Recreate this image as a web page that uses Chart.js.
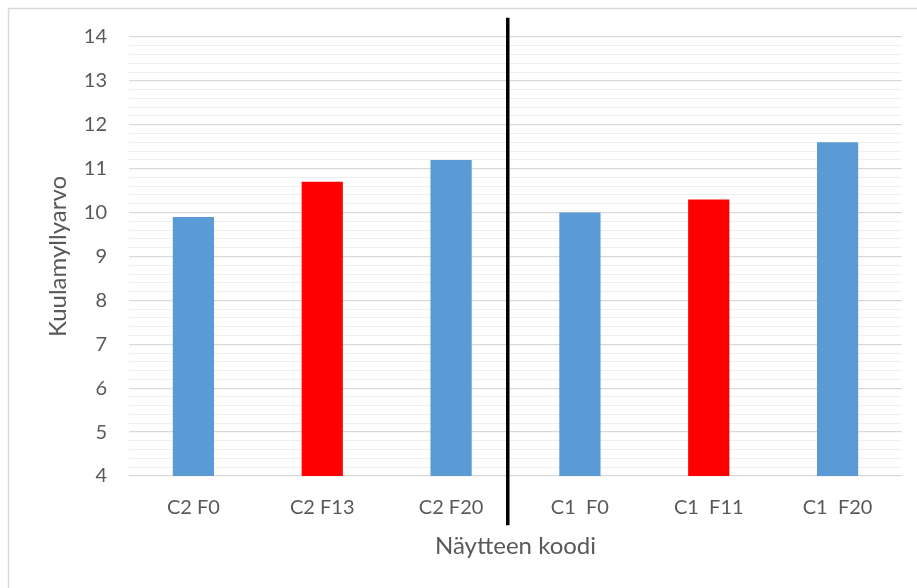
<!DOCTYPE html>
<html>
<head>
<meta charset="utf-8">
<script src="https://cdn.jsdelivr.net/npm/chart.js@4.4.1/dist/chart.umd.min.js"></script>
<style>
  html, body { margin: 0; padding: 0; background: #ffffff; }
  #wrap { width: 917px; height: 588px; }
</style>
</head>
<body>
<div id="wrap"><canvas id="c" width="917" height="588"></canvas></div>
<script>
// Ball-mill values per sample code
const categories = ['C2 F0', 'C2 F13', 'C2 F20', 'C1  F0', 'C1  F11', 'C1  F20'];
const values = [9.9, 10.7, 11.2, 10.0, 10.3, 11.6];
const barColors = ['#5B9BD5', '#FF0000', '#5B9BD5', '#5B9BD5', '#FF0000', '#5B9BD5'];
const yMin = 4;
const yMax = 14;
const yTitle = 'Kuulamyllyarvo';
const xTitle = 'Näytteen koodi';

// Separator between the C2 and C1 groups (in scale units)
const dividerX = 2.44;
const dividerTop = 14.44;
const dividerBottom = 2.88;

const FONT = 'Lato, "Open Sans", sans-serif';
const TEXT = '#595959';

const isMajor = v => Math.abs(v - Math.round(v)) < 1e-6;

const frame = {
  id: 'frame',
  beforeDraw(chart) {
    const ctx = chart.ctx;
    ctx.save();
    ctx.fillStyle = '#ffffff';
    ctx.fillRect(0, 0, chart.width, chart.height);
    ctx.strokeStyle = '#d9d9d9';
    ctx.lineWidth = 1.5;
    ctx.strokeRect(8.5, 8.5, chart.width + 20, chart.height + 20);
    ctx.restore();
  }
};

const divider = {
  id: 'divider',
  afterDatasetsDraw(chart) {
    const { ctx, scales: { x, y } } = chart;
    const px = x.getPixelForValue(dividerX);
    ctx.save();
    ctx.strokeStyle = '#000000';
    ctx.lineWidth = 3.5;
    ctx.beginPath();
    ctx.moveTo(px, y.getPixelForValue(dividerTop));
    ctx.lineTo(px, y.getPixelForValue(dividerBottom));
    ctx.stroke();
    ctx.restore();
  }
};

new Chart(document.getElementById('c'), {
  type: 'bar',
  data: {
    labels: categories,
    datasets: [{
      data: values,
      backgroundColor: barColors,
      borderWidth: 0,
      categoryPercentage: 1.0,
      barPercentage: 0.32
    }]
  },
  options: {
    responsive: false,
    animation: false,
    events: [],
    layout: { padding: { top: 37, right: 15, left: 0, bottom: 0 } },
    plugins: { legend: { display: false }, tooltip: { enabled: false } },
    scales: {
      x: {
        grid: { display: false, drawTicks: false },
        border: { display: false },
        ticks: { color: TEXT, font: { family: FONT, size: 20 }, padding: 20, maxRotation: 0, autoSkip: false },
        title: { display: true, text: xTitle, color: TEXT, font: { family: FONT, size: 24 }, padding: { top: 0, bottom: 27 } },
        afterFit(s) { s.height = 112; }
      },
      y: {
        min: yMin,
        max: yMax,
        border: { display: false },
        grid: {
          drawTicks: false,
          color: ctx => isMajor(ctx.tick.value) ? '#d9d9d9' : '#efefef',
          lineWidth: ctx => isMajor(ctx.tick.value) ? 1.3 : 1.1
        },
        ticks: {
          stepSize: 0.2,
          maxTicksLimit: 100,
          autoSkip: false,
          color: TEXT,
          font: { family: FONT, size: 20 },
          padding: 22,
          callback: v => isMajor(v) ? String(Math.round(v)) : ''
        },
        title: { display: true, text: yTitle, color: TEXT, font: { family: FONT, size: 24 }, padding: { top: 44, bottom: 0 } },
        afterFit(s) { s.width = 129; }
      }
    }
  },
  plugins: [frame, divider]
});
</script>
</body>
</html>
